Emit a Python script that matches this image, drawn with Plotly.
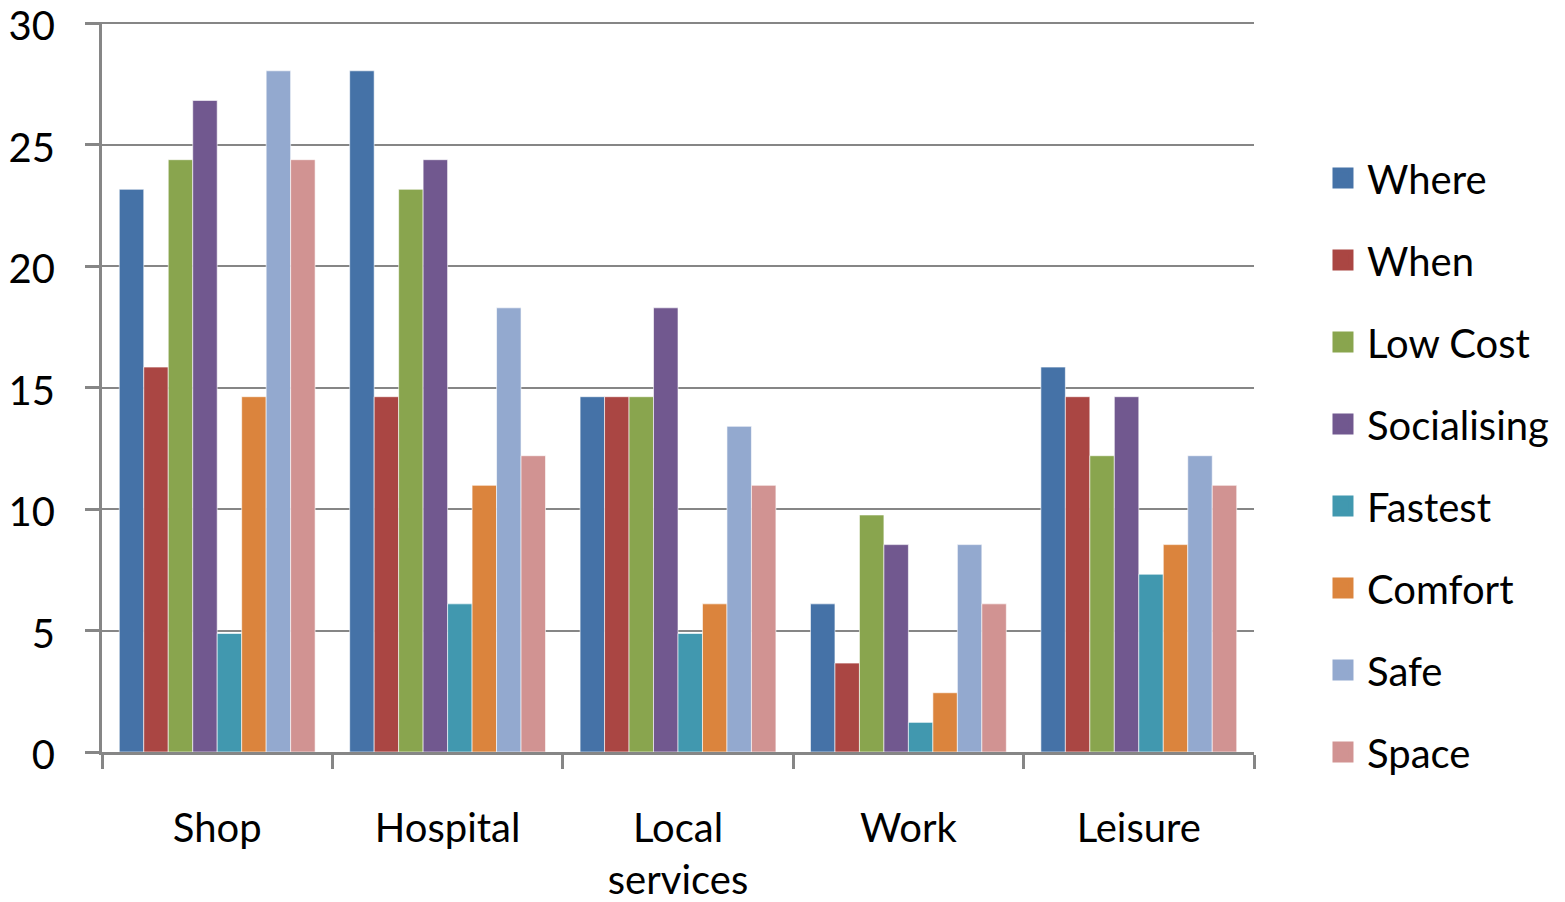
import plotly.graph_objects as go

categories = ["Shop", "Hospital", "Local<br>services", "Work", "Leisure"]
series_names = ["Where", "When", "Low Cost", "Socialising", "Fastest", "Comfort", "Safe", "Space"]
colors = ["#4572A7", "#AA4643", "#89A54E", "#71588F", "#4198AF", "#DB843D", "#93A9CF", "#D19392"]

where = [23.17, 28.05, 14.63, 6.10, 15.85]
when = [15.85, 14.63, 14.63, 3.66, 14.63]
low_cost = [24.39, 23.17, 14.63, 9.76, 12.20]
socialising = [26.83, 24.39, 18.29, 8.54, 14.63]
fastest = [4.88, 6.10, 4.88, 1.22, 7.32]
comfort = [14.63, 10.98, 6.10, 2.44, 8.54]
safe = [28.05, 18.29, 13.41, 8.54, 12.20]
space = [24.39, 12.20, 10.98, 6.10, 10.98]

series_values = [where, when, low_cost, socialising, fastest, comfort, safe, space]
y_min, y_max, y_step = 0, 30, 5

FONT = "Lato"
FS = 40
fig = go.Figure()
for name, vals, col in zip(series_names, series_values, colors):
    fig.add_trace(go.Bar(
        x=categories, y=vals, name=name, legendgroup=name, showlegend=False,
        marker=dict(color=col, line=dict(color="rgba(255,255,255,0.6)", width=1)),
    ))
# legend entries (square swatches)
for name, col in zip(series_names, colors):
    fig.add_trace(go.Scatter(
        x=[categories[0]], y=[None], name=name, legendgroup=name, mode="markers",
        marker=dict(symbol="square", size=16, color=col, line=dict(color=col, width=5)),
        hoverinfo="skip",
    ))

fig.update_layout(
    width=1557, height=894,
    barmode="group", bargap=0.15, bargroupgap=0,
    plot_bgcolor="white", paper_bgcolor="white",
    margin=dict(l=94, r=310, t=14, b=150),
    font=dict(family=FONT, size=FS, color="black"),
    legend=dict(x=1.0555, y=0.393, xanchor="left", yanchor="middle",
                tracegroupgap=27, font=dict(size=FS, family=FONT),
                itemsizing="trace", itemwidth=38),
    showlegend=True,
)
fig.update_xaxes(
    showline=True, linecolor="#868686", linewidth=3,
    ticks="outside", ticklen=14, tickwidth=3, tickcolor="#868686",
    tickson="boundaries", showgrid=False, ticklabelstandoff=39,
    tickfont=dict(size=FS, family=FONT), automargin=False,
    ticklabeloverflow="allow",
)
fig.update_yaxes(
    range=[y_min, y_max + 0.06], tickmode="linear", tick0=y_min, dtick=y_step,
    showline=True, linecolor="#868686", linewidth=3,
    ticks="outside", ticklen=14, tickwidth=3, tickcolor="#868686",
    showgrid=True, gridcolor="#868686", gridwidth=2, ticklabelstandoff=22,
    ticklabelshift=3,
    tickfont=dict(size=FS, family=FONT), zeroline=False, automargin=False,
    ticklabeloverflow="allow",
)

fig.write_html("out.html")
